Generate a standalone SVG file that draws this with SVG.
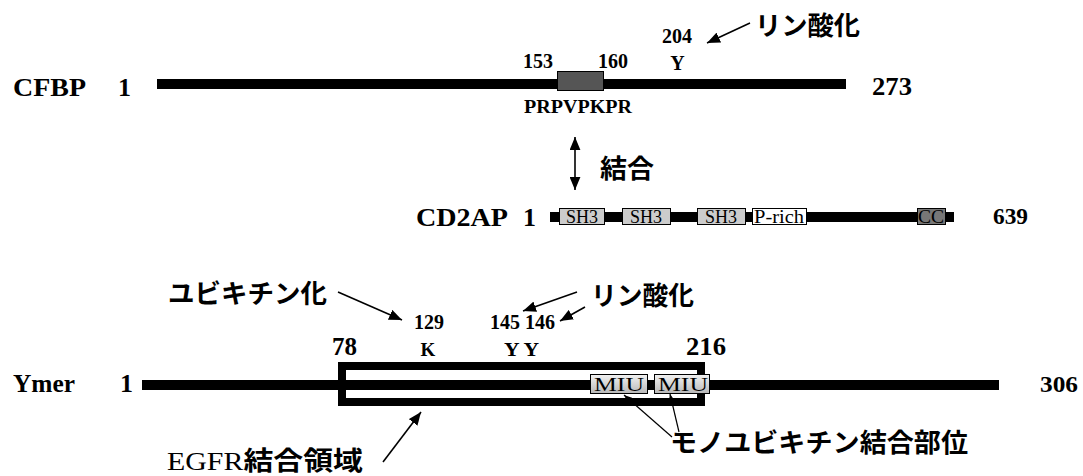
<svg xmlns="http://www.w3.org/2000/svg" width="1083" height="476" viewBox="0 0 1083 476">
<style>
.lbl{font-family:"Liberation Serif",serif;font-weight:bold;fill:#000}
.one{font-family:"Liberation Serif",serif;font-weight:bold;fill:#000}
.num{font-family:"Liberation Serif",serif;font-weight:bold;fill:#000}
.dom{font-family:"Liberation Serif",serif;font-size:18px;fill:#000}
.jp{font-family:"Liberation Serif","Noto Sans CJK JP",sans-serif;font-size:26px;font-weight:bold;fill:#000}
.lat{font-weight:normal}
.bar{fill:#000}
.box{stroke:#000;stroke-width:1}
.arr{stroke:#000;stroke-width:1.6;fill:none}
.arr2{stroke:#000;stroke-width:1.2;fill:none}
</style>
<defs>
<marker id="ah" viewBox="0 0 12 10" refX="12" refY="5" markerWidth="13" markerHeight="11" markerUnits="userSpaceOnUse" orient="auto-start-reverse">
<path d="M0,0 L12,5 L0,10 z" fill="#000"/>
</marker>
<marker id="ahs" viewBox="0 0 12 10" refX="12" refY="5" markerWidth="9" markerHeight="7" markerUnits="userSpaceOnUse" orient="auto">
<path d="M0,0 L12,5 L0,10 z" fill="#000"/>
</marker>
<linearGradient id="miu" x1="0" y1="0" x2="0" y2="1">
<stop offset="0" stop-color="#f2f2f2"/>
<stop offset="1" stop-color="#b8b8b8"/>
</linearGradient>
</defs>
<rect width="1083" height="476" fill="#fff"/>

<g id="cfbp">
<text class="lbl" x="13" y="96" font-size="26" textLength="73" lengthAdjust="spacingAndGlyphs">CFBP</text>
<text class="one" x="118" y="96" font-size="26">1</text>
<rect class="bar" x="157" y="79" width="689" height="10"/>
<rect class="box" x="557.5" y="71.5" width="46" height="19" fill="#555"/>
<text class="num" x="872" y="95" font-size="25" textLength="40" lengthAdjust="spacingAndGlyphs">273</text>
<text class="num" x="523" y="68" font-size="20">153</text>
<text class="num" x="598" y="68" font-size="20">160</text>
<text class="num" x="677.5" y="70" font-size="20" text-anchor="middle">Y</text>
<text class="num" x="662" y="43" font-size="20">204</text>
<text class="num" x="578" y="113" font-size="18" text-anchor="middle" textLength="108" lengthAdjust="spacingAndGlyphs">PRPVPKPR</text>
</g>

<g id="cd2ap">
<text class="lbl" x="416" y="226" font-size="25" textLength="92" lengthAdjust="spacingAndGlyphs">CD2AP</text>
<text class="one" x="523" y="226" font-size="26">1</text>
<rect class="bar" x="550" y="212" width="404" height="10"/>
<rect class="box" x="559.5" y="208.5" width="45" height="16" fill="#cccccc"/>
<text class="dom" x="582" y="223" text-anchor="middle">SH3</text>
<rect class="box" x="622.5" y="208.5" width="48" height="16" fill="#cccccc"/>
<text class="dom" x="646" y="223" text-anchor="middle">SH3</text>
<rect class="box" x="697.5" y="208.5" width="48" height="16" fill="#cccccc"/>
<text class="dom" x="721" y="223" text-anchor="middle">SH3</text>
<rect class="box" x="752.5" y="208.5" width="54" height="16" fill="#ffffff"/>
<text class="dom" x="779" y="223" text-anchor="middle" textLength="50" lengthAdjust="spacingAndGlyphs">P-rich</text>
<rect class="box" x="917.5" y="208.5" width="28" height="16" fill="#777777"/>
<text class="dom" x="931" y="223" text-anchor="middle" textLength="26" lengthAdjust="spacingAndGlyphs">CC</text>
<text class="num" x="993" y="224" font-size="24" textLength="35" lengthAdjust="spacingAndGlyphs">639</text>
</g>

<g id="ymer">
<text class="lbl" x="13" y="392" font-size="25" textLength="62" lengthAdjust="spacingAndGlyphs">Ymer</text>
<text class="one" x="120" y="392" font-size="26">1</text>
<rect class="bar" x="142" y="380" width="857" height="10"/>
<rect x="342" y="366" width="359" height="36" fill="none" stroke="#000" stroke-width="8"/>
<rect class="box" x="590.5" y="374.5" width="57" height="19" fill="url(#miu)"/>
<text class="dom" x="619" y="391" font-size="19" text-anchor="middle" textLength="50" lengthAdjust="spacingAndGlyphs">MIU</text>
<rect class="box" x="654.5" y="374.5" width="55" height="19" fill="url(#miu)"/>
<text class="dom" x="683" y="391" font-size="19" text-anchor="middle" textLength="50" lengthAdjust="spacingAndGlyphs">MIU</text>
<text class="num" x="1040" y="392" font-size="24" textLength="38" lengthAdjust="spacingAndGlyphs">306</text>
<text class="num" x="332" y="355" font-size="25">78</text>
<text class="num" x="686" y="355" font-size="25" textLength="40" lengthAdjust="spacingAndGlyphs">216</text>
<text class="num" x="428" y="356" font-size="19" text-anchor="middle">K</text>
<text class="num" x="414" y="329" font-size="20">129</text>
<text class="num" x="490" y="329" font-size="20" textLength="65" lengthAdjust="spacingAndGlyphs">145 146</text>
<text class="num" x="504" y="356" font-size="19" textLength="35" lengthAdjust="spacingAndGlyphs">Y Y</text>
</g>

<g id="labels">
<text class="jp" x="755" y="35" textLength="105" lengthAdjust="spacingAndGlyphs">リン酸化</text>
<text class="jp" x="600" y="178" textLength="54" lengthAdjust="spacingAndGlyphs">結合</text>
<text class="jp" x="168" y="303" textLength="159" lengthAdjust="spacingAndGlyphs">ユビキチン化</text>
<text class="jp" x="591" y="305" textLength="103" lengthAdjust="spacingAndGlyphs">リン酸化</text>
<text class="jp" x="167" y="470" textLength="196" lengthAdjust="spacingAndGlyphs"><tspan class="lat">EGFR</tspan>結合領域</text>
<text class="jp" x="670" y="452" textLength="298" lengthAdjust="spacingAndGlyphs">モノユビキチン結合部位</text>
</g>

<g id="connectors">
<line class="arr" x1="750" y1="23" x2="707" y2="43" marker-end="url(#ah)"/>
<line class="arr" x1="575" y1="137" x2="575" y2="190" marker-start="url(#ah)" marker-end="url(#ah)"/>
<line class="arr" x1="338" y1="292" x2="402" y2="320" marker-end="url(#ah)"/>
<line class="arr" x1="577" y1="292" x2="523" y2="311" marker-end="url(#ah)"/>
<line class="arr" x1="585" y1="307" x2="560" y2="321" marker-end="url(#ah)"/>
<line class="arr" x1="383" y1="462" x2="421" y2="412" marker-end="url(#ah)"/>
<line class="arr2" x1="672" y1="437" x2="624" y2="395" marker-end="url(#ahs)"/>
<line class="arr2" x1="679" y1="432" x2="670" y2="394" marker-end="url(#ahs)"/>
</g>
</svg>
